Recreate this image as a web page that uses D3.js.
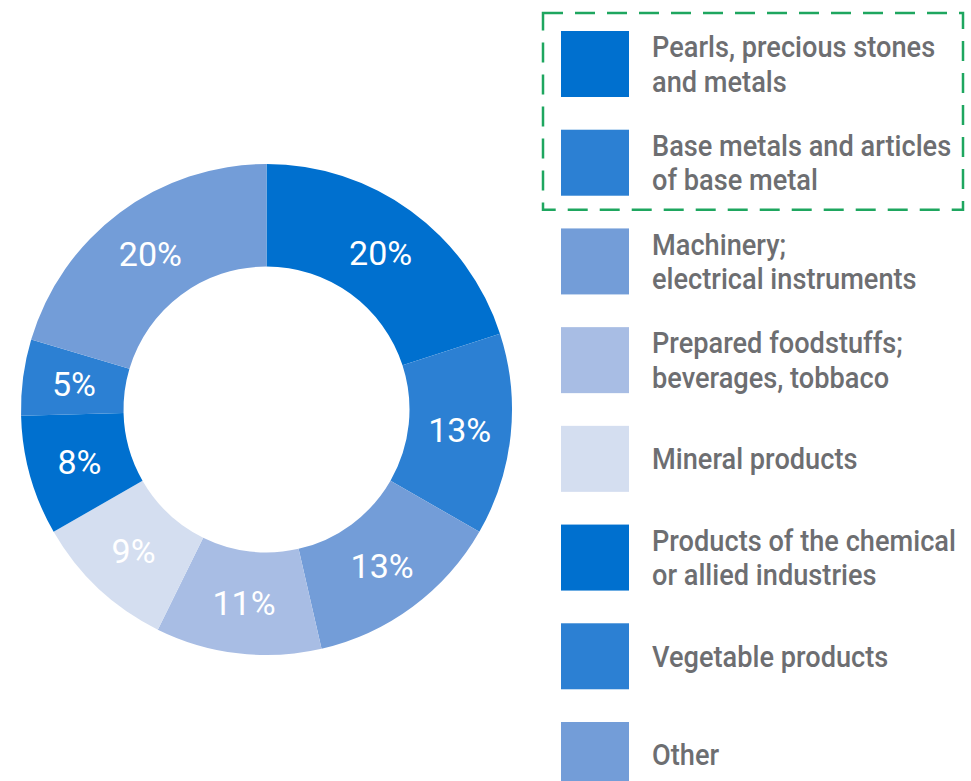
<!DOCTYPE html>
<html>
<head>
<meta charset="utf-8">
<script src="https://cdn.jsdelivr.net/npm/d3@7"></script>
<style>
  body { margin: 0; background: #fff; }
  svg { display: block; font-family: Roboto, "Liberation Sans", sans-serif; }
</style>
</head>
<body>
<svg id="chart"></svg>
<script>
// slice order, clockwise from 12 o'clock
var categories = [
  "Pearls, precious stones\nand metals",
  "Base metals and articles\nof base metal",
  "Machinery;\nelectrical instruments",
  "Prepared foodstuffs;\nbeverages, tobbaco",
  "Mineral products",
  "Products of the chemical\nor allied industries",
  "Vegetable products",
  "Other"
];
var values = [20.0, 13.3, 13.1, 10.9, 9.4, 7.9, 5.0, 20.4];
var palette = ["#0070cf", "#2c80d3", "#739dd8", "#a8bde4", "#d4def0", "#0070cf", "#2c80d3", "#739dd8"];
var highlighted = [0, 1]; // items inside the dashed box

var width = 971, height = 781;
var cx = 266.5, cy = 409.5, outerR = 245.5, innerR = 143;

var svg = d3.select("#chart").attr("width", width).attr("height", height);

var data = values.map(function(v, i) { return {name: categories[i], value: v, i: i}; });

var pie = d3.pie().sort(null).value(function(d) { return d.value; });
var arc = d3.arc().innerRadius(innerR).outerRadius(outerR);
var color = d3.scaleOrdinal().domain(d3.range(categories.length)).range(palette);

var donut = svg.append("g").attr("transform", "translate(" + cx + "," + cy + ")");

var slices = donut.selectAll(".slice")
  .data(pie(data))
  .enter().append("g").attr("class", "slice");

slices.append("path")
  .attr("d", arc)
  .attr("fill", function(d) { return color(d.data.i); });

slices.append("text")
  .attr("transform", function(d) { return "translate(" + arc.centroid(d) + ")"; })
  .attr("text-anchor", "middle")
  .attr("dy", "0.36em")
  .attr("fill", "#fff")
  .style("font-size", "34px")
  .text(function(d) { return Math.round(d.data.value) + "%"; });

// legend
var legendX = 561, sw = 68, sh = 66;
var y = d3.scalePoint().domain(d3.range(categories.length)).range([31, 722]);

var legend = svg.append("g");
var item = legend.selectAll(".item")
  .data(data)
  .enter().append("g")
  .attr("class", "item")
  .attr("transform", function(d) { return "translate(" + legendX + "," + y(d.i) + ")"; });

item.append("rect")
  .attr("width", sw).attr("height", sh)
  .attr("fill", function(d) { return color(d.i); });

var lineH = 34.5, capH = 21;
var texts = [];
item.each(function(d) {
  var lines = d.name.split("\n");
  var first = sh / 2 + capH / 2 - (lines.length - 1) * lineH / 2;
  var t = d3.select(this).append("text")
    .attr("fill", "#6d6e71")
    .style("font-size", "29.5px")
    .style("font-weight", 500);
  lines.forEach(function(l, k) {
    t.append("tspan").attr("x", 0).attr("y", first + k * lineH).text(l);
  });
  texts.push(t);
});

// squeeze the legend text to a condensed look (longest line ~304px wide)
var widest = 0;
legend.selectAll("tspan").each(function() {
  widest = Math.max(widest, this.getComputedTextLength());
});
var squeeze = 304 / widest;
texts.forEach(function(t) {
  t.attr("transform", "translate(91,0) scale(" + squeeze + ",1)");
});

// dashed box around the highlighted items
var top0 = y(highlighted[0]), bot0 = y(highlighted[highlighted.length - 1]) + sh;
svg.append("rect")
  .attr("x", 543).attr("y", top0 - 18)
  .attr("width", 420).attr("height", bot0 - top0 + 32)
  .attr("fill", "none")
  .attr("stroke", "#1ea65f")
  .attr("stroke-width", 2.5)
  .attr("stroke-dasharray", "20,12");
</script>
</body>
</html>
